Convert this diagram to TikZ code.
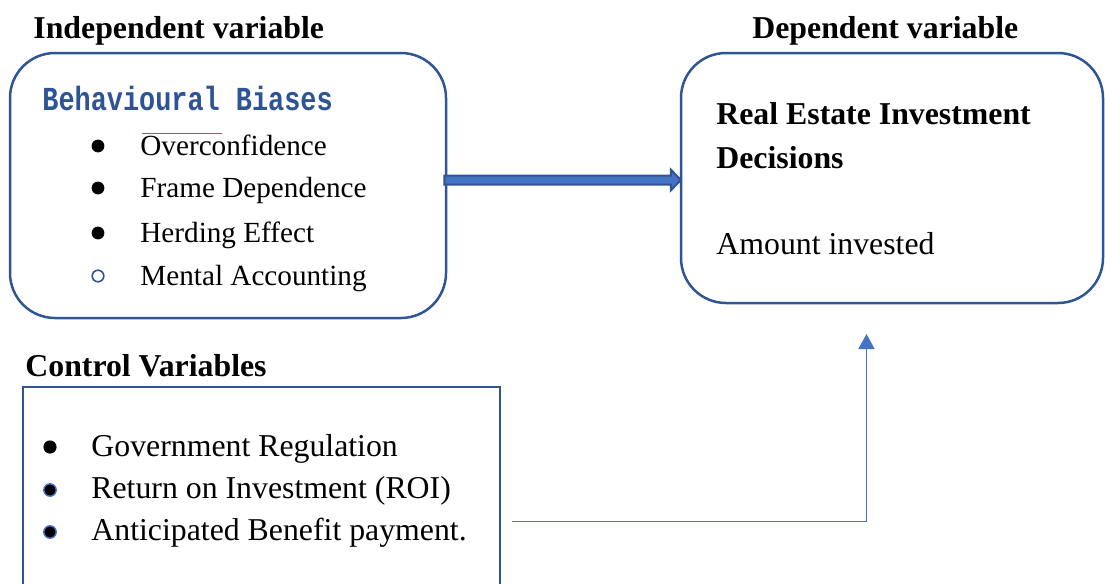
\documentclass[tikz,border=0pt]{standalone}
\usepackage{fontspec}
\setmainfont{Liberation Serif}
\newfontfamily\monob{Liberation Mono}[FakeStretch=0.8]
\usetikzlibrary{calc,arrows.meta}
\definecolor{boxblue}{HTML}{2F5597}
\definecolor{lineblue}{HTML}{4472C4}
\definecolor{titleblue}{HTML}{2F5496}
\begin{document}
\begin{tikzpicture}[x=0.5pt,y=-0.5pt,
  every node/.style={font=\fontsize{15.9}{19}\selectfont},
  lbl/.style={anchor=base west,inner sep=0pt,text=black},
  item/.style={lbl,font=\fontsize{14.6}{18}\selectfont},
  hdr/.style={lbl,font=\fontsize{15.9}{19}\selectfont\bfseries},
  roundbox/.style={draw=boxblue,line width=1.25pt,rounded corners=22.5pt,rectangle,inner sep=0pt},
  sqbox/.style={draw=boxblue,line width=1pt,rectangle,inner sep=0pt},
  dotb/.style={fill=black,draw=none},
  dotblue/.style={fill=black,draw=lineblue,line width=0.7pt},
  ring/.style={draw=boxblue,line width=0.8pt,fill=none},
  conn/.style={draw=lineblue,line width=0.9pt,-{Triangle[length=7.5pt,width=8pt]}},
  bigarrow/.style={fill=lineblue,draw=boxblue,line width=1pt,line join=miter}]
\useasboundingbox (0,0) rectangle (1105,584);

% boxes
\node[roundbox,minimum width=218pt,minimum height=132.5pt] (b1) at (228,185.5) {};
\node[roundbox,minimum width=211pt,minimum height=125pt] (b2) at (892,178) {};
\node[sqbox,minimum width=238.5pt,minimum height=106.5pt] (b3) at (261.5,493.5) {};

% headings
\node[hdr] (h1) at (33,38) {Independent variable};
\node[hdr] (h2) at (752,38) {Dependent variable};
\node[hdr] (h3) at (25,376) {Control Variables};

% box 1 content
\node[lbl,text=titleblue,font=\monob\bfseries\fontsize{16.8}{19}\selectfont] (t1) at (42,110) {Behavioural Biases};
\draw[lineblue,line width=0.6pt] (142,133.5) -- (222,133.5);
\fill[dotb] (98,146) circle (3.2pt);
\fill[dotb] (98,188) circle (3.2pt);
\fill[dotb] (98,233) circle (3.2pt);
\draw[ring] (98,276) circle (2.9pt);
\node[item] (i1) at (140,155) {Overconfidence};
\node[item] (i2) at (140,197) {Frame Dependence};
\node[item] (i3) at (140,242) {Herding Effect};
\node[item] (i4) at (140,285) {Mental Accounting};

% box 2 content
\node[hdr] (d1) at (716,124) {Real Estate Investment};
\node[hdr] (d2) at (716,168) {Decisions};
\node[lbl] (d3) at (716,254) {Amount invested};

% box 3 content
\fill[dotb] (50,447) circle (3.3pt);
\filldraw[dotblue] (50,490) circle (3.1pt);
\filldraw[dotblue] (50,532) circle (3.1pt);
\node[lbl] (c1) at (91,456) {Government Regulation};
\node[lbl] (c2) at (91,498) {Return on Investment (ROI)};
\node[lbl] (c3) at (91,540) {Anticipated Benefit payment.};

% thick arrow from b1 to b2
\coordinate (as) at ($(b1.east)+(-3,-5.5)$);
\coordinate (at) at ($(b2.west)+(1,2)$);
\filldraw[bigarrow] ($(as)+(0,-4.5)$) -- ($(at)+(-10,-4.5)$) -- ($(at)+(-10,-10.5)$) -- (at)
  -- ($(at)+(-10,10.5)$) -- ($(at)+(-10,4.5)$) -- ($(as)+(0,4.5)$) -- cycle;

% control connector
\coordinate (cs) at (512,521.5);
\coordinate (ct) at (866.5,334);
\draw[conn] (cs) -| (ct);
\end{tikzpicture}
\end{document}
